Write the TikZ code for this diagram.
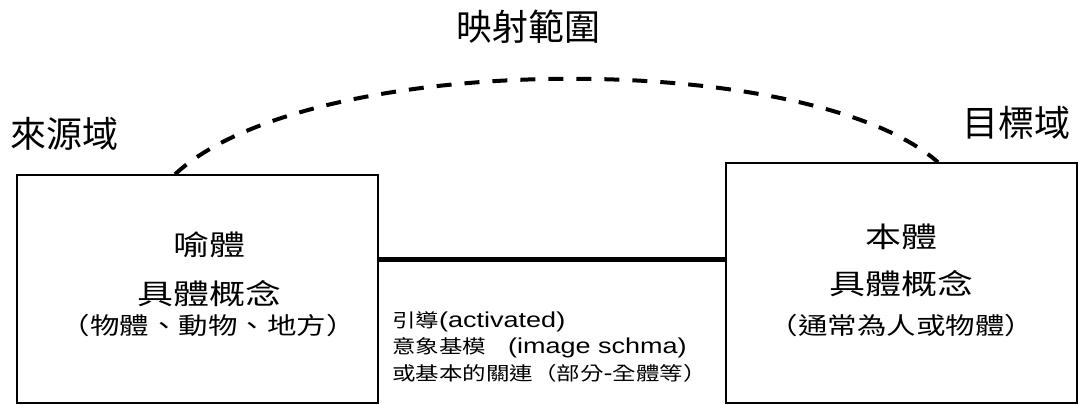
\documentclass[tikz,border=0pt]{standalone}
\usepackage{fontspec}
\usepackage{graphicx}
\setmainfont{Liberation Sans}
\newfontfamily\cjk{Noto Sans CJK TC}
\tikzset{
  boxnode/.style={draw=black, line width=1.4pt, rectangle, inner sep=0pt},
  biglabel/.style={inner sep=0pt, font=\cjk\fontsize{36}{40}\selectfont},
  mainline/.style={inner sep=0pt, yscale=0.78, transform shape, font=\cjk\fontsize{36}{40}\selectfont},
  subline/.style={inner sep=0pt, yscale=0.8, transform shape, font=\cjk\fontsize{29.5}{32}\selectfont},
  midline/.style={inner sep=0pt, anchor=west, yscale=0.8, transform shape, font=\fontsize{27}{30}\selectfont},
  mapping/.style={line width=4pt, dash pattern=on 15pt off 13pt},
  linkline/.style={line width=5pt}
}
\newcommand{\cj}[1]{{\cjk\fontsize{23.5}{28}\selectfont #1}}
\begin{document}
\begin{tikzpicture}[x=1pt,y=1pt]
\useasboundingbox (0,0) rectangle (1078,404);
% boxes
\node[boxnode, minimum width=361pt, minimum height=228pt] (L) at (197.5,115) {};
\node[boxnode, minimum width=351pt, minimum height=240pt] (R) at (901.5,121) {};
% labels
\node[biglabel] (title) at (528,377) {映射範圍};
\node[biglabel] (src) at (64,270) {來源域};
\node[biglabel] (tgt) at (1016,281) {目標域};
% left box text
\node[mainline] (l1) at (209,159) {喻體};
\node[mainline] (l2) at (209,110) {具體概念};
\node[subline] (l3) at (208,78) {（物體、動物、地方）};
% right box text
\node[mainline] (r1) at (901.5,167) {本體};
\node[mainline] (r2) at (901.5,120) {具體概念};
\node[subline] (r3) at (901.5,78) {（通常為人或物體）};
% middle text
\node[midline] (m1) at (392,82) {\cj{引導}(activated)};
\node[midline] (m2) at (392,56) {\cj{意象基模}\hspace{22pt}(image schma)};
\node[midline] (m3) at (392,31) {\cj{或基本的關連（部分}-\cj{全體等）}};
% connectors
\coordinate (lk) at (0,144);
\draw[linkline] (L.east |- lk) -- (R.west |- lk);
\draw[mapping] ([xshift=-22.5pt]L.north) .. controls (310,355) and (810,355) .. ([xshift=36.5pt]R.north);
\end{tikzpicture}
\end{document}
